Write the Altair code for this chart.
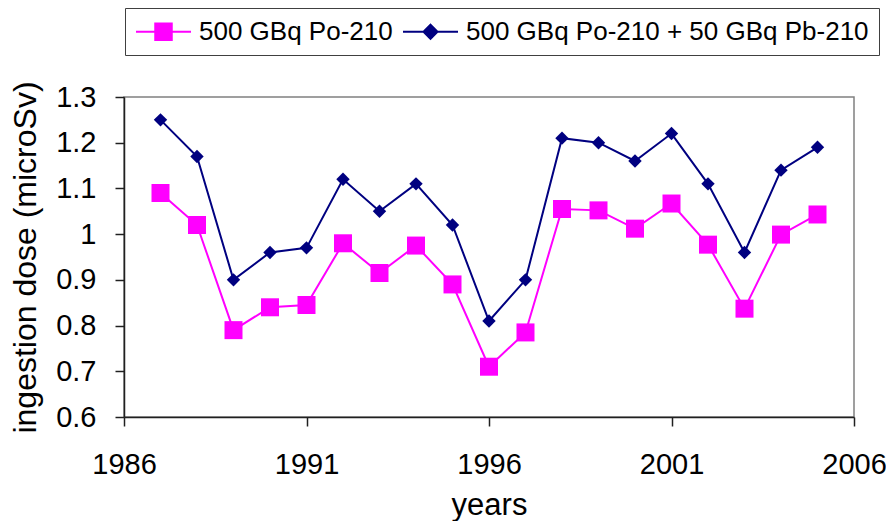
import altair as alt
import pandas as pd

years = list(range(1987, 2006))
po210 = [1.09, 1.02, 0.79, 0.84, 0.845, 0.98, 0.915, 0.975, 0.89, 0.71,
         0.785, 1.055, 1.052, 1.012, 1.067, 0.977, 0.837, 0.999, 1.043]
po_pb = [1.25, 1.17, 0.90, 0.96, 0.97, 1.12, 1.05, 1.11, 1.02, 0.81,
         0.90, 1.21, 1.20, 1.16, 1.22, 1.11, 0.96, 1.14, 1.19]
series_names = ["500 GBq Po-210", "500 GBq Po-210 + 50 GBq Pb-210"]
series_colors = ["#FF00FF", "#000080"]
x_ticks = [1986, 1991, 1996, 2001, 2006]
y_ticks = [0.6, 0.7, 0.8, 0.9, 1.0, 1.1, 1.2, 1.3]

df = pd.concat([
    pd.DataFrame({"year": years, "dose": po210, "series": series_names[0]}),
    pd.DataFrame({"year": years, "dose": po_pb, "series": series_names[1]}),
])

FONT = "Liberation Sans"

x = alt.X("year:Q", scale=alt.Scale(domain=[1986, 2006], nice=False, zero=False),
          axis=alt.Axis(values=x_ticks, format="d", title="years", grid=False,
                        labelFontSize=29, titleFontSize=31, labelPadding=24,
                        titlePadding=11, tickSize=9, labelFlush=False,
                        labelOverlap=False))
y = alt.Y("dose:Q", scale=alt.Scale(domain=[0.6, 1.3], nice=False, zero=False),
          axis=alt.Axis(values=y_ticks, format="~g", title="ingestion dose (microSv)",
                        grid=False, labelFontSize=29, titleFontSize=32,
                        labelPadding=19, titlePadding=13, tickSize=9,
                        labelFlush=False, labelOverlap=False))

base = alt.Chart(df)
po_data = base.transform_filter(alt.datum.series == series_names[0])
pb_data = base.transform_filter(alt.datum.series == series_names[1])

line_po = po_data.mark_line(strokeWidth=2, color=series_colors[0]).encode(x=x, y=y)
line_pb = pb_data.mark_line(strokeWidth=2, color=series_colors[1]).encode(x=x, y=y)

squares = po_data.mark_point(
    shape="square", filled=True, size=324, opacity=1, color=series_colors[0]
).encode(x=x, y=y)

diamonds = pb_data.mark_point(
    shape="diamond", filled=True, size=180, opacity=1, color=series_colors[1]
).encode(x=x, y=y)

# legend glyphs: a line with the series marker in its middle
legend_paths = [
    "M-2.2,0H2.2M-0.66,-0.66H0.66V0.66H-0.66Z",
    "M-2.2,0H2.2M0,-0.56L0.56,0L0,0.56L-0.56,0Z",
]

leg = alt.Legend(
    title=None, orient="none", legendX=1, legendY=-89, direction="horizontal",
    symbolSize=625, symbolStrokeWidth=2, symbolOpacity=1, symbolOffset=15,
    labelFont=FONT, labelFontSize=26, labelColor="black", labelLimit=700,
    labelOffset=22, columnPadding=5, padding=10,
    fillColor="white", strokeColor="#404040",
)

legend_layer = base.transform_filter("datum.year < 0").mark_point(
    filled=True, opacity=1
).encode(
    x=x, y=y,
    shape=alt.Shape("series:N", scale=alt.Scale(domain=series_names, range=legend_paths),
                    legend=leg),
    fill=alt.Fill("series:N", scale=alt.Scale(domain=series_names, range=series_colors),
                  legend=leg),
    stroke=alt.Stroke("series:N", scale=alt.Scale(domain=series_names, range=series_colors),
                      legend=leg),
)

chart = alt.layer(line_po, line_pb, squares, diamonds, legend_layer).properties(
    width=730, height=320,
    autosize=alt.AutoSizeParams(type="none"),
    padding={"left": 116, "top": 89, "right": 32, "bottom": 104},
).configure(
    font=FONT,
).configure_view(
    stroke="#808080", strokeWidth=1.5,
).configure_axis(
    domainColor="#202020", tickColor="#202020", domainWidth=1.5, tickWidth=1.5,
    labelColor="black", titleColor="black", labelFont=FONT, titleFont=FONT,
    titleFontWeight="normal",
)

chart.save("out.html", embed_options={"renderer": "svg", "actions": False})
